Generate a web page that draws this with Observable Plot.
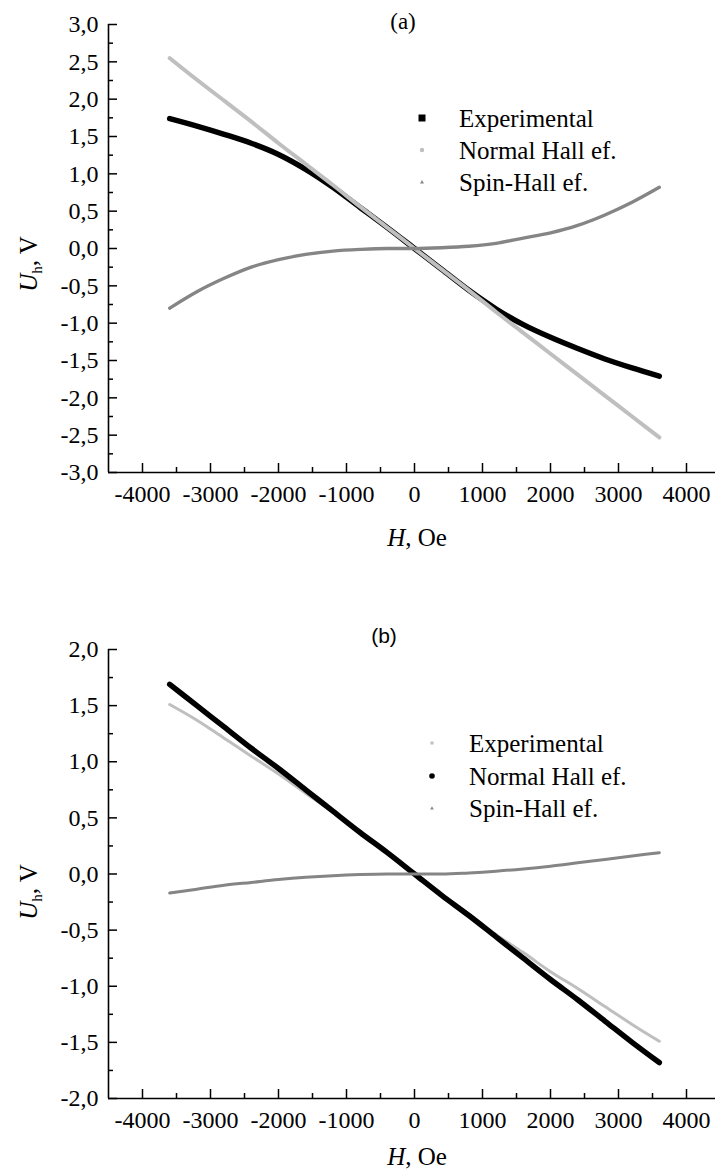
<!DOCTYPE html>
<html><head><meta charset="utf-8">
<script src="https://cdn.jsdelivr.net/npm/d3@7"></script>
<script src="https://cdn.jsdelivr.net/npm/@observablehq/plot@0.6"></script>
<style>
html,body{margin:0;padding:0;background:#fff;overflow:hidden;width:715px;height:1175px}
svg{display:block}
</style></head><body><div id="chart"></div>
<script>
// Field values (Oe)
const H = [-3600,-3200,-2800,-2400,-2000,-1600,-1200,-800,-400,0,400,800,1200,1600,2000,2400,2800,3200,3600];
// Panel (a) series, U_h in V
const expA  = [1.74,1.64,1.53,1.41,1.26,1.06,0.82,0.55,0.28,0,-0.28,-0.56,-0.81,-1.02,-1.19,-1.34,-1.48,-1.60,-1.71];
const normA = [2.55,2.26,1.98,1.70,1.41,1.13,0.85,0.56,0.28,0,-0.28,-0.56,-0.85,-1.13,-1.41,-1.69,-1.97,-2.25,-2.53];
const spinA = [-0.80,-0.58,-0.40,-0.25,-0.15,-0.08,-0.035,-0.012,0,0,0.01,0.03,0.07,0.14,0.21,0.31,0.45,0.62,0.82];
// Panel (b) series
const expB  = [1.51,1.37,1.21,1.05,0.89,0.72,0.55,0.37,0.19,0,-0.19,-0.36,-0.54,-0.70,-0.87,-1.02,-1.18,-1.34,-1.49];
const normB = [1.69,1.50,1.31,1.12,0.94,0.75,0.56,0.37,0.19,0,-0.19,-0.37,-0.56,-0.75,-0.94,-1.12,-1.31,-1.50,-1.68];
const spinB = [-0.17,-0.135,-0.10,-0.075,-0.05,-0.03,-0.015,-0.005,0,0,0,0.01,0.025,0.045,0.07,0.10,0.13,0.16,0.19];
// Ticks
const xMajor = [-4000,-3000,-2000,-1000,0,1000,2000,3000,4000];
const xMinor = [-3500,-2500,-1500,-500,500,1500,2500,3500];
const yMajorA = [-3,-2.5,-2,-1.5,-1,-0.5,0,0.5,1,1.5,2,2.5,3];
const yMinorA = [-2.75,-2.25,-1.75,-1.25,-0.75,-0.25,0.25,0.75,1.25,1.75,2.25,2.75];
const yMajorB = [-2,-1.5,-1,-0.5,0,0.5,1,1.5,2];
const yMinorB = [-1.75,-1.25,-0.75,-0.25,0.25,0.75,1.25,1.75];
const seriesNames = ["Experimental","Normal Hall ef.","Spin-Hall ef."];

const LIGHT = "#bfbfbf", MID = "#858585", BLACK = "#000";
const serif = "'Liberation Serif', 'Times New Roman', serif";
const rows = vals => H.map((h,i)=>({H:h, v:vals[i]}));
const fmtY = d => d.toFixed(1).replace(".", ",");

function panel(o) {
  const svg = Plot.plot({
    width: 715, height: o.height,
    marginLeft: 108, marginRight: -5, marginTop: o.marginTop, marginBottom: o.marginBottom,
    x: {domain: [-4500, 4500]},
    y: {domain: o.yDomain},
    style: {background: "#fff", overflow: "visible"},
    marks: [
      ...o.series.map(s => Plot.line(rows(s.values), {x:"H", y:"v", stroke:s.color, strokeWidth:s.width, curve:"monotone-x", strokeLinecap:"round"})),
      Plot.ruleY([o.yDomain[0]], {strokeWidth:1.6}),
      Plot.ruleX([-4500], {strokeWidth:1.6}),
      Plot.axisX({ticks:xMajor, tickSize:-9, tickFormat:()=>"", label:null, strokeWidth:1.5}),
      Plot.axisX({ticks:xMinor, tickSize:-5, tickFormat:()=>"", label:null, strokeWidth:1.5}),
      Plot.axisX({ticks:xMajor, tickSize:0, tickPadding:12, tickFormat:d=>String(d), label:null, fontSize:24}),
      Plot.axisY({ticks:o.yMajor, tickSize:-9, tickFormat:()=>"", label:null, strokeWidth:1.5}),
      Plot.axisY({ticks:o.yMinor, tickSize:-5, tickFormat:()=>"", label:null, strokeWidth:1.5}),
      Plot.axisY({ticks:o.yMajor, tickSize:0, tickPadding:10, tickFormat:fmtY, label:null, fontSize:24})
    ]
  });
  const s = d3.select(svg);
  s.style("font-family", serif);
  s.selectAll("text").style("font-family", serif).style("font-size", "24px").style("fill", "#000");
  s.append("text").attr("x", o.letter.x).attr("y", o.letter.y).attr("text-anchor","middle")
    .style("font-family", o.letter.font).style("font-size", o.letter.size + "px").text(o.letter.text);
  const xl = s.append("text").attr("x", 417).attr("y", o.xLabelY).attr("text-anchor","middle")
    .style("font-family", serif).style("font-size", "25px");
  xl.append("tspan").attr("font-style","italic").text("H");
  xl.append("tspan").text(", Oe");
  const yl = s.append("text").attr("transform", `translate(37,${o.yLabelY}) rotate(-90)`).attr("text-anchor","middle")
    .style("font-family", serif).style("font-size", "25px");
  yl.append("tspan").attr("font-style","italic").text("U");
  yl.append("tspan").style("font-size", "15px").attr("dy", 5).text("h");
  yl.append("tspan").attr("dy", -5).text(", V");
  o.legend.forEach((it, i) => {
    const cy = o.legendY[i];
    if (it.shape === "square") s.append("rect").attr("x", o.legendX - it.r).attr("y", cy - it.r).attr("width", 2*it.r).attr("height", 2*it.r).attr("fill", it.color);
    else if (it.shape === "circle") s.append("circle").attr("cx", o.legendX).attr("cy", cy).attr("r", it.r).attr("fill", it.color);
    else s.append("path").attr("d", `M${o.legendX},${cy-it.r}L${o.legendX+it.r},${cy+it.r*0.8}L${o.legendX-it.r},${cy+it.r*0.8}Z`).attr("fill", it.color);
    s.append("text").attr("x", o.legendTextX).attr("y", cy + 9).attr("text-anchor","start")
      .style("font-family", serif).style("font-size", "25px").text(seriesNames[i]);
  });
  return svg;
}

const panelA = panel({
  height: 600, marginTop: 24, marginBottom: 128, yDomain: [-3, 3], yMajor: yMajorA, yMinor: yMinorA,
  series: [
    {values: expA, color: BLACK, width: 5.5},
    {values: normA, color: LIGHT, width: 4},
    {values: spinA, color: MID, width: 3.3}
  ],
  letter: {text: "(a)", x: 403, y: 29, size: 23, font: serif},
  xLabelY: 546, yLabelY: 264,
  legendX: 422, legendTextX: 459, legendY: [118, 150, 182],
  legend: [{shape:"square", r:3.5, color:BLACK}, {shape:"circle", r:2.2, color:LIGHT}, {shape:"triangle", r:2, color:MID}]
});
const panelB = panel({
  height: 575, marginTop: 49, marginBottom: 77, yDomain: [-2, 2], yMajor: yMajorB, yMinor: yMinorB,
  series: [
    {values: expB, color: LIGHT, width: 3},
    {values: normB, color: BLACK, width: 5.5},
    {values: spinB, color: MID, width: 3}
  ],
  letter: {text: "(b)", x: 384, y: 43, size: 21, font: "'Liberation Sans', Arial, sans-serif"},
  xLabelY: 565, yLabelY: 292,
  legendX: 432, legendTextX: 469, legendY: [143, 176, 208],
  legend: [{shape:"square", r:1.5, color:LIGHT}, {shape:"circle", r:2.8, color:BLACK}, {shape:"triangle", r:1.8, color:MID}]
});
document.getElementById("chart").append(panelA, panelB);
</script></body></html>
